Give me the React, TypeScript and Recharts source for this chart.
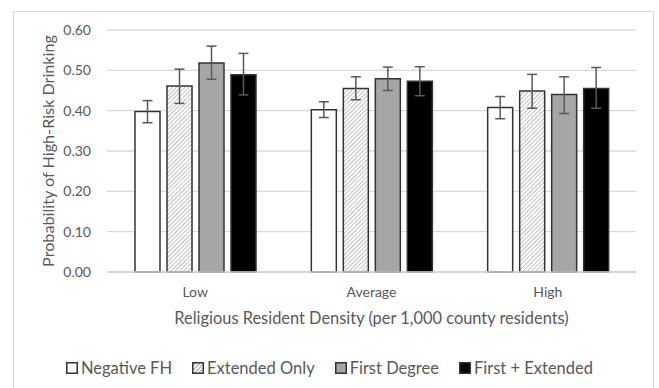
import { Bar, BarChart, CartesianGrid, ErrorBar, Legend, XAxis, YAxis } from 'recharts';

const categories = ['Low', 'Average', 'High'];

const negativeFH = [0.398, 0.402, 0.408];
const negativeFHLower = [0.37, 0.383, 0.38];
const negativeFHUpper = [0.425, 0.422, 0.435];

const extendedOnly = [0.461, 0.455, 0.449];
const extendedOnlyLower = [0.418, 0.427, 0.406];
const extendedOnlyUpper = [0.503, 0.484, 0.49];

const firstDegree = [0.518, 0.479, 0.44];
const firstDegreeLower = [0.478, 0.45, 0.393];
const firstDegreeUpper = [0.56, 0.508, 0.484];

const firstExtended = [0.489, 0.473, 0.455];
const firstExtendedLower = [0.439, 0.437, 0.406];
const firstExtendedUpper = [0.542, 0.509, 0.507];

const yTicks = [0, 0.1, 0.2, 0.3, 0.4, 0.5, 0.6];

const FONT = 'Lato, "Open Sans", sans-serif';
const TEXT = '#595959';
const OUTLINE = '#333333';

const series = [
  { key: 'neg', name: 'Negative FH', values: negativeFH, lower: negativeFHLower, upper: negativeFHUpper, fill: '#ffffff' },
  { key: 'ext', name: 'Extended Only', values: extendedOnly, lower: extendedOnlyLower, upper: extendedOnlyUpper, fill: 'url(#hatch)' },
  { key: 'first', name: 'First Degree', values: firstDegree, lower: firstDegreeLower, upper: firstDegreeUpper, fill: '#a6a6a6' },
  { key: 'both', name: 'First + Extended', values: firstExtended, lower: firstExtendedLower, upper: firstExtendedUpper, fill: '#000000' },
];

const data = categories.map((category, i) => {
  const row: Record<string, unknown> = { category };
  series.forEach((s) => {
    row[s.key] = s.values[i];
    // ErrorBar wants [minus, plus] offsets from the bar value
    row[`${s.key}Err`] = [s.values[i] - s.lower[i], s.upper[i] - s.values[i]];
  });
  return row;
});

function LegendIcon({ fill, hatched }: { fill: string; hatched: boolean }) {
  return (
    <svg width={12} height={12} style={{ display: 'block' }}>
      {hatched && (
        <defs>
          <pattern id="hatchIcon" patternUnits="userSpaceOnUse" width={3} height={3} patternTransform="rotate(45)">
            <line x1={0} y1={0} x2={0} y2={3} stroke="#555" strokeWidth={1.2} />
          </pattern>
        </defs>
      )}
      <rect x={0.75} y={0.75} width={10.5} height={10.5} fill={hatched ? 'url(#hatchIcon)' : fill} stroke={OUTLINE} strokeWidth={1.5} />
    </svg>
  );
}

function LegendContent() {
  return (
    <div
      style={{
        height: 20,
        display: 'flex',
        justifyContent: 'center',
        alignItems: 'center',
        gap: 20,
        fontFamily: FONT,
        fontSize: 16.5,
        color: TEXT,
      }}
    >
      {series.map((s) => (
        <div key={s.key} style={{ display: 'flex', alignItems: 'center', gap: 3 }}>
          <LegendIcon fill={s.fill} hatched={s.key === 'ext'} />
          <span>{s.name}</span>
        </div>
      ))}
    </div>
  );
}

export default function App() {
  return (
    <div style={{ position: 'absolute', left: 0, top: 0, width: 659, height: 388, overflow: 'hidden', background: '#fff' }}>
      <div
        style={{
          position: 'absolute',
          left: 13,
          top: 11,
          width: 641,
          height: 400,
          border: '1px solid #d9d9d9',
          boxSizing: 'border-box',
        }}
      />
      <BarChart
        width={659}
        height={388}
        data={data}
        margin={{ top: 30, right: 23, left: 47, bottom: 36 }}
        barSize={25}
        barGap={7}
        style={{ position: 'absolute', left: 0, top: 0 }}
      >
        <defs>
          <pattern id="hatch" patternUnits="userSpaceOnUse" width={3} height={3} patternTransform="rotate(45)">
            <rect width={3} height={3} fill="#ffffff" />
            <line x1={0} y1={0} x2={0} y2={3} stroke="#808080" strokeWidth={1} />
          </pattern>
        </defs>
        <CartesianGrid vertical={false} stroke="#d9d9d9" strokeWidth={1.3} />
        <XAxis
          dataKey="category"
          height={60}
          axisLine={{ stroke: '#d0d0d0', strokeWidth: 1.5 }}
          tickLine={false}
          tickSize={0}
          tickMargin={15}
          tick={{ fill: TEXT, fontSize: 14, fontFamily: FONT }}
          label={{
            value: 'Religious Resident Density (per 1,000 county residents)',
            position: 'insideBottom',
            offset: 8,
            fill: TEXT,
            fontSize: 16.4,
            fontFamily: FONT,
          }}
        />
        <YAxis
          width={60}
          domain={[0, 0.6]}
          ticks={yTicks}
          axisLine={false}
          tickLine={false}
          tickSize={0}
          tickMargin={16}
          tickFormatter={(v: number) => v.toFixed(2)}
          tick={{ fill: TEXT, fontSize: 14, fontFamily: FONT }}
          label={{
            value: 'Probability of High-Risk Drinking',
            angle: -90,
            position: 'insideLeft',
            offset: 1,
            fill: TEXT,
            fontSize: 16.2,
            fontFamily: FONT,
            style: { textAnchor: 'middle' },
          }}
        />
        <Legend verticalAlign="bottom" content={<LegendContent />} wrapperStyle={{ bottom: 10, left: 0, width: 659 }} />
        {series.map((s) => (
          <Bar
            key={s.key}
            dataKey={s.key}
            name={s.name}
            fill={s.fill}
            stroke={OUTLINE}
            strokeWidth={1.5}
            isAnimationActive={false}
          >
            <ErrorBar dataKey={`${s.key}Err`} width={5} stroke="#595959" strokeWidth={1.5} direction="y" />
          </Bar>
        ))}
      </BarChart>
    </div>
  );
}
